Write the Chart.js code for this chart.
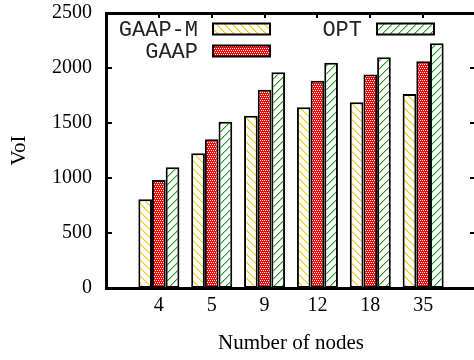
<!DOCTYPE html>
<html><head><meta charset="utf-8">
<script src="https://cdn.jsdelivr.net/npm/chart.js@4.4.0/dist/chart.umd.min.js"></script>
<style>
html,body{margin:0;padding:0;overflow:hidden;background:#fff;width:474px;height:360px}
#wrap{width:480px;height:360px;position:relative}
</style>
</head><body><div id="wrap"><canvas id="c" width="480" height="360"></canvas></div>
<script>
const categories = ['4', '5', '9', '12', '18', '35'];
const gaapM = [806, 1224, 1567, 1643, 1688, 1764];
const gaap = [982, 1352, 1803, 1885, 1942, 2061];
const opt = [1097, 1512, 1961, 2048, 2097, 2224];
const yTicks = [0, 500, 1000, 1500, 2000, 2500];
const seriesNames = ['GAAP-M', 'GAAP', 'OPT'];

const pctx = document.createElement('canvas').getContext('2d');
function hatch(color, soft, dir) {
  const n = 8;
  const c = document.createElement('canvas'); c.width = n; c.height = n;
  const x = c.getContext('2d');
  x.fillStyle = '#fff'; x.fillRect(0, 0, n, n);
  for (let i = 0; i < n; i++) {
    const px = dir > 0 ? n - 1 - i : i;
    x.fillStyle = soft; x.fillRect((px + 1) % n, i, 1, 1);
    x.fillStyle = color; x.fillRect(px, i, 1, 1);
  }
  return pctx.createPattern(c, 'repeat');
}
function dots(color) {
  const c = document.createElement('canvas'); c.width = 4; c.height = 4;
  const x = c.getContext('2d');
  x.fillStyle = color; x.fillRect(0, 0, 4, 4);
  x.fillStyle = '#fff';
  x.fillRect(0, 0, 1, 1); x.fillRect(2, 0, 1, 1);
  x.fillRect(1, 2, 1, 1); x.fillRect(3, 2, 1, 1);
  return pctx.createPattern(c, 'repeat');
}
const fills = [hatch('#f5c800', '#fbe58a', -1), dots('#ff0000'), hatch('#1fa01f', '#9bd49b', 1)];

const pad = a => [null, ...a, null];
const labels = ['', ...categories, ''];

const framePlugin = {
  id: 'frame',
  afterDraw(chart) {
    const ctx = chart.ctx, a = chart.chartArea, scales = chart.scales;
    const l = Math.round(a.left), r = Math.round(a.right), t = Math.round(a.top), b = Math.round(a.bottom);
    ctx.save();
    ctx.fillStyle = '#000';
    yTicks.forEach(v => {
      const y = Math.round(scales.y.getPixelForValue(v));
      ctx.fillRect(l, y - 1, 6, 2);
      ctx.fillRect(r - 6, y - 1, 6, 2);
    });
    categories.forEach((c, i) => {
      const x = Math.round(scales.x.getPixelForValue(i + 1));
      ctx.fillRect(x - 1, t, 2, 5);
    });
    ctx.fillRect(l - 1, t - 1, r - l + 2, 3);
    ctx.fillRect(l - 1, b - 1, r - l + 2, 3);
    ctx.fillRect(l - 1, t - 1, 3, b - t + 2);
    ctx.fillRect(r - 1, t - 1, 3, b - t + 2);
    ctx.restore();
  }
};

const keyPlugin = {
  id: 'key',
  afterDraw(chart) {
    const {ctx, chartArea: a} = chart;
    const entries = [
      {ds: 0, tx: a.left + 92, cy: a.top + 16},
      {ds: 1, tx: a.left + 92, cy: a.top + 38},
      {ds: 2, tx: a.left + 256, cy: a.top + 16}
    ];
    ctx.save();
    ctx.font = '22px "Liberation Mono", monospace';
    ctx.textAlign = 'right'; ctx.textBaseline = 'middle';
    entries.forEach(e => {
      const d = chart.data.datasets[e.ds];
      ctx.fillStyle = '#222';
      ctx.fillText(d.label, e.tx, e.cy + 1);
      const bx = e.tx + 15, by = e.cy - 5.5;
      ctx.fillStyle = d.backgroundColor;
      ctx.fillRect(bx, by, 57, 11);
      ctx.strokeStyle = '#000'; ctx.lineWidth = 2;
      ctx.strokeRect(bx, by, 57, 11);
    });
    ctx.restore();
  }
};

new Chart(document.getElementById('c'), {
  type: 'bar',
  data: {
    labels: labels,
    datasets: [
      {label: seriesNames[0], data: pad(gaapM), backgroundColor: fills[0]},
      {label: seriesNames[1], data: pad(gaap), backgroundColor: fills[1]},
      {label: seriesNames[2], data: pad(opt), backgroundColor: fills[2]}
    ].map(d => Object.assign(d, {borderColor: '#000', borderWidth: 2, borderSkipped: false,
      categoryPercentage: 0.776, barPercentage: 1}))
  },
  options: {
    responsive: false,
    animation: false,
    layout: {padding: {top: 13, right: 4, left: 0, bottom: 0}},
    plugins: {legend: {display: false}, tooltip: {enabled: false}},
    scales: {
      x: {
        offset: false,
        grid: {display: false, drawTicks: true, tickLength: 6},
        border: {display: false},
        ticks: {autoSkip: false, maxRotation: 0, padding: 0, color: '#000',
          font: {family: '"Liberation Serif", serif', size: 20}},
        title: {display: true, text: 'Number of nodes', color: '#000',
          font: {family: '"Liberation Serif", serif', size: 21}, padding: {top: 0, bottom: 4}},
        afterFit(s) { s.height = 72; }
      },
      y: {
        min: 0, max: 2500,
        afterBuildTicks(s) { s.ticks = yTicks.map(v => ({value: v})); },
        grid: {display: false, drawTicks: true, tickLength: 14},
        border: {display: false},
        ticks: {padding: 0, color: '#000', callback: v => String(v),
          font: {family: '"Liberation Serif", serif', size: 20}},
        title: {display: true, text: 'VoI', color: '#000',
          font: {family: '"Liberation Serif", serif', size: 21}, padding: {top: 7, bottom: 0}},
        afterFit(s) { s.width = 106; }
      }
    }
  },
  plugins: [framePlugin, keyPlugin]
});
</script>
</body></html>
